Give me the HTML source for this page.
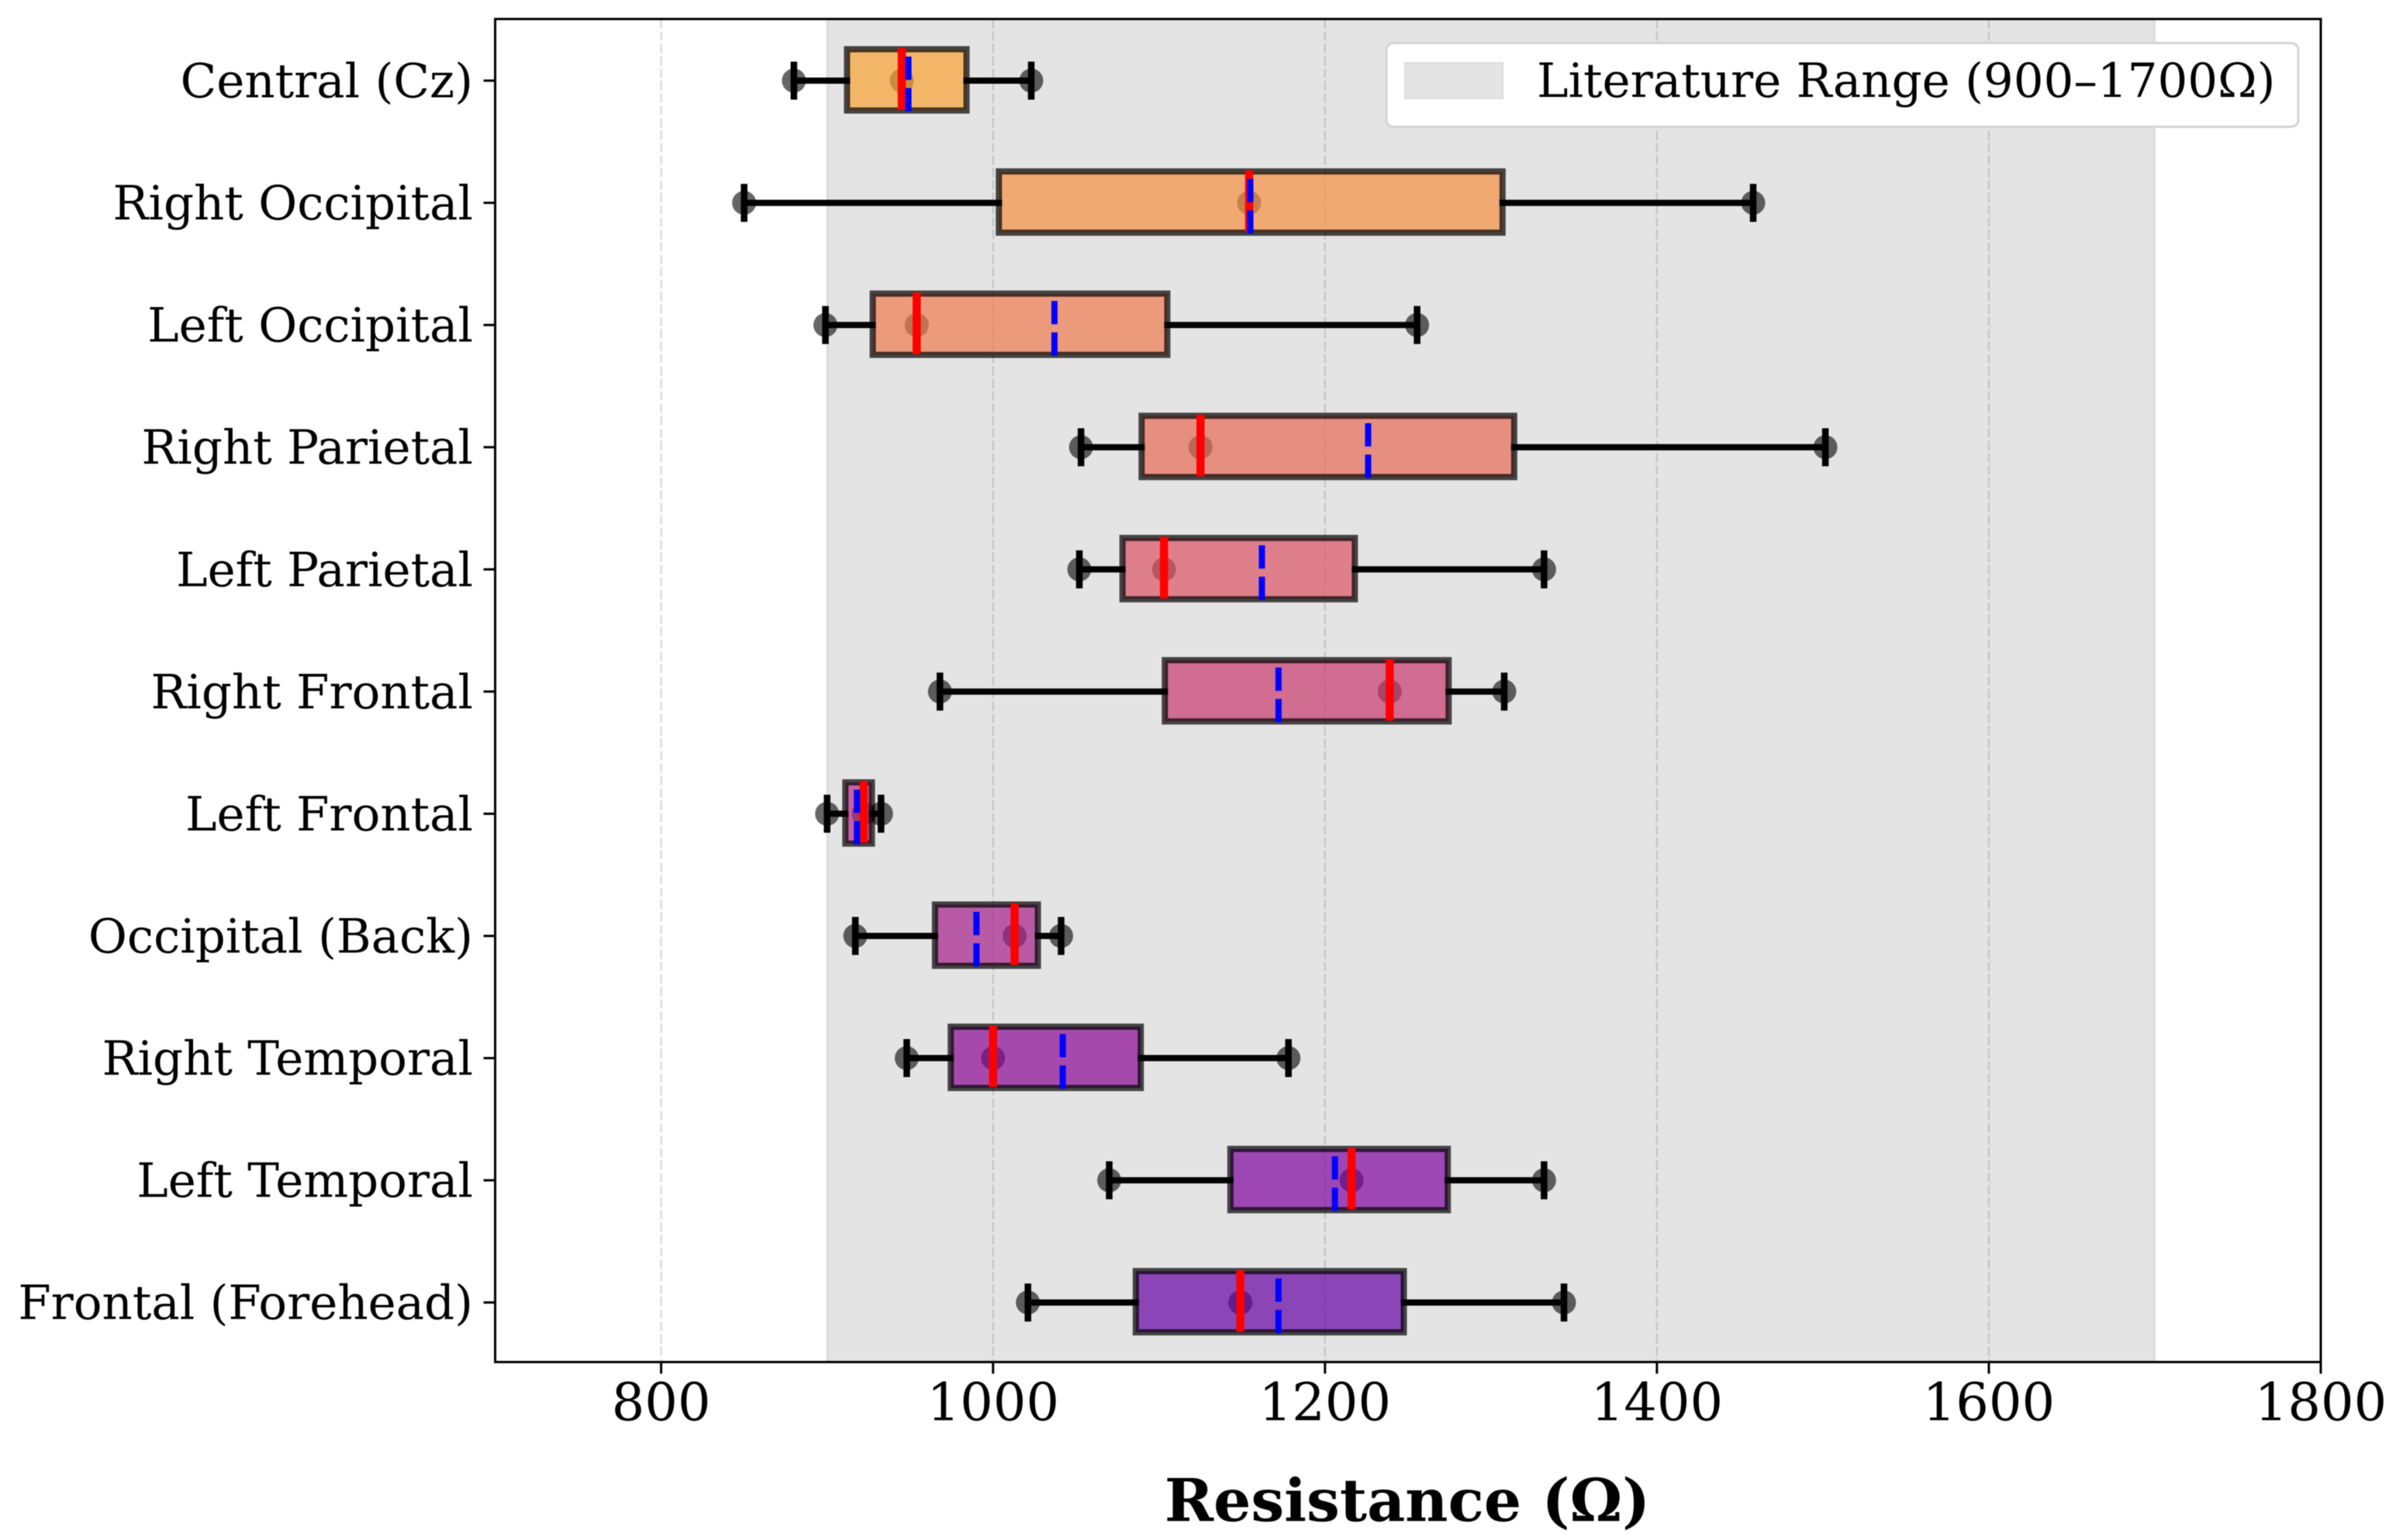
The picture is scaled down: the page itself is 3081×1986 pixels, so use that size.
<!DOCTYPE html>
<html lang="en">
<head>
<meta charset="utf-8">
<title>Resistance by electrode region</title>
<style>
html,body{margin:0;padding:0;background:#fff;width:3081px;height:1986px;overflow:hidden}
svg{display:block;filter:blur(0.6px)}
text{font-family:"DejaVu Serif","Liberation Serif",serif;fill:#000}
</style>
</head>
<body>
<svg id="chart" xmlns="http://www.w3.org/2000/svg" width="3081" height="1986" viewBox="0 0 3081 1986">
  <rect x="0" y="0" width="3081" height="1986" fill="#fff"/>
  <g id="plot-under"></g>
  <g id="marks"></g>
  <g id="axes"></g>
  <text x="1815" y="1961.5" text-anchor="middle" font-size="76" font-weight="bold">Resistance (Ω)</text>
  <g>
    <rect x="1788" y="55.5" width="1176" height="108" rx="9" fill="#fff" stroke="#d4d4d4" stroke-width="3"/>
    <rect x="1812" y="81" width="126" height="46" fill="#e4e4e4" stroke="#dcdcdc" stroke-width="2"/>
    <text x="1982" y="125" font-size="61">Literature Range (900–1700Ω)</text>
  </g>
</svg>
<script>
const categories = ["Central (Cz)","Right Occipital","Left Occipital","Right Parietal","Left Parietal","Right Frontal","Left Frontal","Occipital (Back)","Right Temporal","Left Temporal","Frontal (Forehead)"];
const whiskerLow  = [880, 850, 899, 1053, 1052, 968, 900, 917, 948, 1070, 1021];
const q1Values    = [912, 1003.5, 927.5, 1089.5, 1078, 1103.5, 911, 965, 974.5, 1143, 1086];
const medians     = [945, 1154.3, 954, 1125, 1103, 1239, 922, 1013, 1000, 1216, 1149];
const q3Values    = [984, 1307, 1105, 1314, 1218, 1274.5, 927, 1027, 1089, 1274, 1247.5];
const whiskerHigh = [1023, 1458, 1255.5, 1501.5, 1332, 1308, 932.5, 1041, 1178, 1332, 1344];
const means       = [949, 1155, 1037, 1226, 1162, 1172, 918, 990, 1042, 1206, 1172];
const xTickValues = [800, 1000, 1200, 1400, 1600, 1800];
const literatureRange = [900, 1700];
const boxColors = ["#faa335","#f79042","#f07b50","#e76b56","#dc5465","#c73b6e","#ba2988","#a62189","#8c0796","#7e049f","#6701a3"];

const NS = "http://www.w3.org/2000/svg";
const plotLeft = 638.6, plotRight = 2993, plotTop = 24.5, plotBottom = 1756.5;
const xDomainMin = 700, xDomainMax = 1800;
function xScale(v){ return plotLeft + (v - xDomainMin) * (plotRight - plotLeft) / (xDomainMax - xDomainMin); }
function yScale(i){ return 103 + i * 157.57; }
function mk(parent, tag, attrs){
  const el = document.createElementNS(NS, tag);
  for (const k in attrs) el.setAttribute(k, attrs[k]);
  parent.appendChild(el);
  return el;
}
const under = document.getElementById("plot-under");
const marks = document.getElementById("marks");
const axes = document.getElementById("axes");

const band = mk(under, "rect", {x: xScale(literatureRange[0]), y: plotTop, width: xScale(literatureRange[1]) - xScale(literatureRange[0]), height: plotBottom - plotTop, fill: "#e4e4e4"});


const bandEdgeL = mk(under, "line", {x1: xScale(literatureRange[0]), x2: xScale(literatureRange[0]), y1: plotTop, y2: plotBottom, stroke: "rgba(128,128,128,0.14)", "stroke-width": 3});


const bandEdgeR = mk(under, "line", {x1: xScale(literatureRange[1]), x2: xScale(literatureRange[1]), y1: plotTop, y2: plotBottom, stroke: "rgba(128,128,128,0.14)", "stroke-width": 3});



xTickValues.forEach(function(v){
  const x = xScale(v);
  if (v < xDomainMax) {
    const g = mk(under, "line", {x1: x, x2: x, y1: plotTop, y2: plotBottom, stroke: "rgba(128,128,128,0.28)", "stroke-width": 2.5, "stroke-dasharray": "12 4"});
    
    
  }
  const t = mk(axes, "line", {x1: x, x2: x, y1: plotBottom, y2: plotBottom + 15, stroke: "#000", "stroke-width": 3});
  
  
  const l = mk(axes, "text", {x: x, y: 1831.5, "text-anchor": "middle", "font-size": 67});
  
  
  l.textContent = String(v);
});

categories.forEach(function(name, i){
  const c = yScale(i);
  const w = c + 1;
  const g = mk(marks, "g", {});
  
  

  [whiskerLow[i], medians[i], whiskerHigh[i]].forEach(function(v){
    const p = mk(g, "circle", {cx: xScale(v), cy: w, r: 15.5, fill: "#000", "fill-opacity": 0.6});
    
    
  });

  const box = mk(g, "rect", {x: xScale(q1Values[i]), y: c - 39.5, width: xScale(q3Values[i]) - xScale(q1Values[i]), height: 79, fill: boxColors[i], "fill-opacity": 0.7, stroke: "#000", "stroke-opacity": 0.7, "stroke-width": 8});
  
  

  const wl = mk(g, "line", {x1: xScale(whiskerLow[i]), x2: xScale(q1Values[i]) + 4, y1: w, y2: w, stroke: "#000", "stroke-width": 8});
  
  
  const wh = mk(g, "line", {x1: xScale(q3Values[i]) - 4, x2: xScale(whiskerHigh[i]), y1: w, y2: w, stroke: "#000", "stroke-width": 8});
  
  
  const cl = mk(g, "line", {x1: xScale(whiskerLow[i]), x2: xScale(whiskerLow[i]), y1: w - 24.5, y2: w + 24.5, stroke: "#000", "stroke-width": 8.5});
  
  
  const ch = mk(g, "line", {x1: xScale(whiskerHigh[i]), x2: xScale(whiskerHigh[i]), y1: w - 24.5, y2: w + 24.5, stroke: "#000", "stroke-width": 8.5});
  
  

  const med = mk(g, "line", {x1: xScale(medians[i]), x2: xScale(medians[i]), y1: c - 41, y2: c + 38.5, stroke: "#ff0000", "stroke-width": 10.5});
  
  
  const mean = mk(g, "line", {x1: xScale(means[i]), x2: xScale(means[i]), y1: c + 40.5, y2: c - 30, stroke: "#0000ff", "stroke-width": 8, "stroke-dasharray": "30 10.5"});
  
  

  const t = mk(axes, "line", {x1: plotLeft - 15, x2: plotLeft, y1: w, y2: w, stroke: "#000", "stroke-width": 3});
  
  
  const l = mk(axes, "text", {x: 610, y: c + 22.5, "text-anchor": "end", "font-size": 61});
  
  
  l.textContent = name;
});

const frame = mk(axes, "rect", {x: plotLeft, y: plotTop, width: plotRight - plotLeft, height: plotBottom - plotTop, fill: "none", stroke: "#000", "stroke-width": 3});


</script>
</body>
</html>
